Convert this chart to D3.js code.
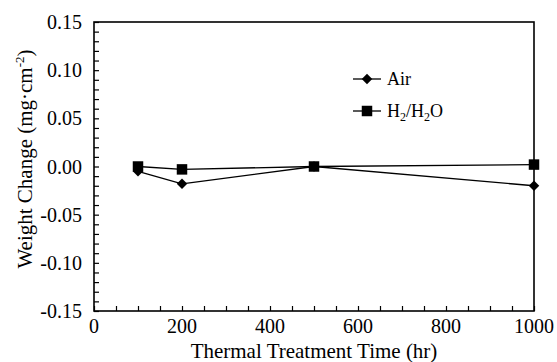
<!DOCTYPE html>
<html>
<head>
<meta charset="utf-8">
<script src="https://cdn.jsdelivr.net/npm/d3@7"></script>
<style>
  body { margin: 0; background: #fff; }
  text { font-family: "Liberation Serif", "Times New Roman", serif; fill: #000; }
</style>
</head>
<body>
<div id="chart"></div>
<script>
// data
var times = [100, 200, 500, 1000];
var airValues = [-0.005, -0.018, 0.000, -0.020];
var h2Values = [0.000, -0.003, 0.000, 0.002];
var xTickLabels = [0, 200, 400, 600, 800, 1000];
var yTickLabels = [-0.15, -0.10, -0.05, 0.00, 0.05, 0.10, 0.15];

var width = 557;
var height = 362;

var margin = { top: 22, bottom: 51, left: 94, right: 23 };

var svg = d3.select("#chart")
    .append("svg")
    .attr("width", width)
    .attr("height", height);

var w = width - margin.left - margin.right;
var h = height - margin.top - margin.bottom;

var x = d3.scaleLinear().domain([0, 1000]).range([0, w]);
var y = d3.scaleLinear().domain([-0.15, 0.15]).range([h, 0]);

var g = svg.append("g")
    .attr("transform", "translate(" + margin.left + "," + margin.top + ")");

// minor ticks, inside
g.append("g")
    .call(d3.axisBottom(x).tickValues(d3.range(0, 1001, 50)).tickSize(-5).tickFormat(""))
    .attr("transform", "translate(0," + h + ")")
    .call(function(s) { s.select(".domain").remove(); s.selectAll("line").attr("stroke", "#000").attr("stroke-width", 1.2); });

g.append("g")
    .call(d3.axisLeft(y).tickValues(d3.range(-15, 16, 1).map(function(d) { return d / 100; })).tickSize(-5).tickFormat(""))
    .call(function(s) { s.select(".domain").remove(); s.selectAll("line").attr("stroke", "#000").attr("stroke-width", 1.2); });

// tick labels
g.selectAll(".xlab")
    .data(xTickLabels)
    .enter().append("text")
    .attr("x", function(d) { return x(d); })
    .attr("y", h + 22)
    .attr("text-anchor", "middle")
    .attr("font-size", "20px")
    .text(function(d) { return d; });

g.selectAll(".ylab")
    .data(yTickLabels)
    .enter().append("text")
    .attr("x", -12)
    .attr("y", function(d) { return y(d) + 7; })
    .attr("text-anchor", "end")
    .attr("font-size", "20px")
    .text(function(d) { return d.toFixed(2); });

// frame
g.append("rect")
    .attr("width", w)
    .attr("height", h)
    .attr("fill", "none")
    .attr("stroke", "#000")
    .attr("stroke-width", 1.6);

var line = d3.line()
    .x(function(d) { return x(d[0]); })
    .y(function(d) { return y(d[1]); });

var airData = times.map(function(t, i) { return [t, airValues[i]]; });
var h2Data = times.map(function(t, i) { return [t, h2Values[i]]; });

var diamond = d3.symbol().type(d3.symbolDiamond2).size(70);
var square = d3.symbol().type(d3.symbolSquare).size(110);

function drawSeries(data, sym) {
  g.append("path")
      .datum(data)
      .attr("d", line)
      .attr("fill", "none")
      .attr("stroke", "#000")
      .attr("stroke-width", 1.3);
  g.selectAll(null)
      .data(data)
      .enter().append("path")
      .attr("d", sym)
      .attr("transform", function(d) { return "translate(" + x(d[0]) + "," + y(d[1]) + ")"; })
      .attr("fill", "#000");
}
drawSeries(airData, diamond);
drawSeries(h2Data, square);

// legend
var legend = svg.append("g").attr("transform", "translate(353,79)");
legend.append("line").attr("x1", 0).attr("x2", 28).attr("y1", 0).attr("y2", 0).attr("stroke", "#000").attr("stroke-width", 1.3);
legend.append("path").attr("d", diamond).attr("transform", "translate(14,0)").attr("fill", "#000");
legend.append("text").attr("x", 34).attr("y", 6).attr("font-size", "18px").text("Air");

var leg2 = svg.append("g").attr("transform", "translate(353,111)");
leg2.append("line").attr("x1", 0).attr("x2", 28).attr("y1", 0).attr("y2", 0).attr("stroke", "#000").attr("stroke-width", 1.3);
leg2.append("path").attr("d", square).attr("transform", "translate(14,0)").attr("fill", "#000");
var t2 = leg2.append("text").attr("x", 34).attr("y", 6).attr("font-size", "18px");
t2.append("tspan").text("H");
t2.append("tspan").attr("font-size", "12px").attr("dy", 4).text("2");
t2.append("tspan").attr("dy", -4).text("/H");
t2.append("tspan").attr("font-size", "12px").attr("dy", 4).text("2");
t2.append("tspan").attr("dy", -4).text("O");

// axis titles
svg.append("text")
    .attr("x", margin.left + w / 2)
    .attr("y", 358)
    .attr("text-anchor", "middle")
    .attr("font-size", "21px")
    .text("Thermal Treatment Time (hr)");

var yt = svg.append("text")
    .attr("transform", "translate(32,159) rotate(-90)")
    .attr("text-anchor", "middle")
    .attr("font-size", "21px");
yt.append("tspan").text("Weight Change (mg\u00b7cm");
yt.append("tspan").attr("font-size", "13px").attr("dy", -8).text("-2");
yt.append("tspan").attr("dy", 8).text(")");
</script>
</body>
</html>
